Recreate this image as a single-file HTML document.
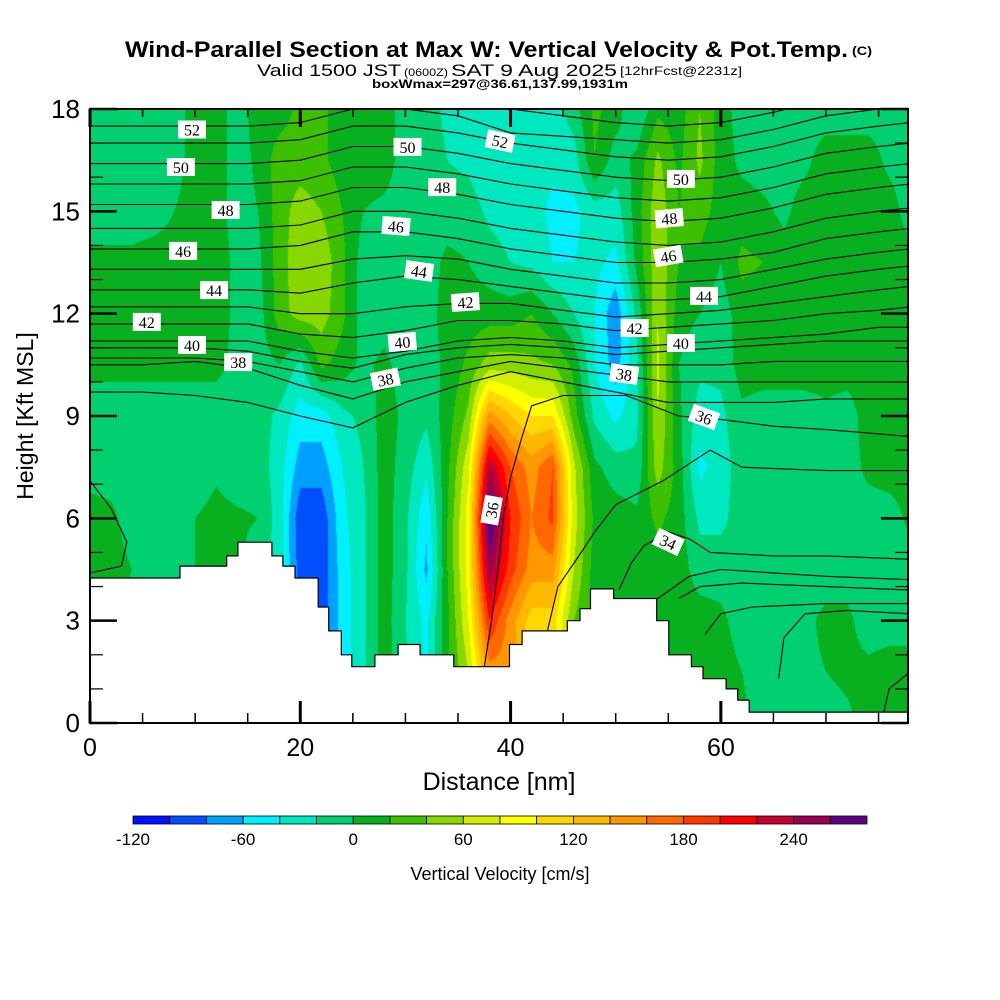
<!DOCTYPE html>
<html><head><meta charset="utf-8"><style>
html,body{margin:0;padding:0;background:#fff;}
#wrap{position:relative;width:1000px;height:1000px;overflow:hidden;}
canvas{position:absolute;left:90px;top:109px;}
svg{position:absolute;left:0;top:0;}
</style></head><body>
<div id="wrap">
<canvas id="field" width="818" height="614"></canvas>
<svg id="svg" width="1000" height="1000" xmlns="http://www.w3.org/2000/svg" font-family="Liberation Sans, sans-serif">
 <g>
  <text x="125" y="57" font-size="22" font-weight="bold" textLength="723" lengthAdjust="spacingAndGlyphs">Wind-Parallel Section at Max W: Vertical Velocity &amp; Pot.Temp.</text>
  <text x="852" y="55" font-size="12" font-weight="bold" textLength="20" lengthAdjust="spacingAndGlyphs">(C)</text>
 </g>
 <g>
  <text x="257" y="76" font-size="17" textLength="144" lengthAdjust="spacingAndGlyphs">Valid 1500 JST</text>
  <text x="404" y="76" font-size="11" textLength="44" lengthAdjust="spacingAndGlyphs">(0600Z)</text>
  <text x="451" y="76" font-size="17" textLength="166" lengthAdjust="spacingAndGlyphs">SAT 9 Aug 2025</text>
  <text x="620" y="75" font-size="12" textLength="122" lengthAdjust="spacingAndGlyphs">[12hrFcst@2231z]</text>
 </g>
 <text x="372" y="88" font-size="12" font-weight="bold" textLength="256" lengthAdjust="spacingAndGlyphs">boxWmax=297@36.61,137.99,1931m</text>
 <defs><clipPath id="pc"><rect x="90" y="109" width="818" height="614"/></clipPath></defs>
 <g id="contours" clip-path="url(#pc)"></g>
 <g id="terrain"></g>
 <g id="labels"></g>
 <g id="axes"></g>
 <text x="499" y="790" font-size="25" text-anchor="middle">Distance [nm]</text>
 <text transform="translate(33,416) rotate(-90)" font-size="23" text-anchor="middle">Height [Kft MSL]</text>
 <g id="cbar"></g>
 <text x="500" y="880" font-size="18" text-anchor="middle">Vertical Velocity [cm/s]</text>
</svg>
</div>
<script>
// ---- data ----
const levelColors = ["#0010ff","#0050ff","#00a0ff","#00f0ff","#00e8c0","#00d070","#08b020","#3cc000","#88d800","#d0f000","#ffff00","#ffd800","#ffb800","#ff9800","#ff6800","#ff3800","#ff0000","#c80030","#980050","#600080"];
const levelMin = -120, levelStep = 20;
const cbarTicks = [-120,-60,0,60,120,180,240];
const gridX = [0,2,4,6,8,10,12,14,16,18,20,22,24,26,28,30,32,34,36,38,40,42,44,46,48,50,52,54,56,58,60,62,64,66,68,70,72,74,76,78];
const gridY = [0,1.5,3,4.5,6,7.5,9,10.5,12,13.5,15,16.5,18];
// vertical velocity (cm/s) per x column, bottom -> top
const wCols = [
[10,10,10,10,10,-10,-10,5,10,5,-10,-10,-10],
[10,10,10,10,5,-10,-10,5,10,5,-10,-10,-10],
[-10,-10,-10,0,-10,-10,-10,5,10,5,-10,-10,-10],
[-10,-10,-10,-10,-10,-10,-10,5,10,10,-10,-10,-10],
[-10,-10,-10,-10,-10,-10,-10,5,10,10,0,-10,-10],
[-10,-10,-10,0,0,-10,-10,5,10,10,10,10,10],
[-10,-10,-10,5,5,-3,-10,5,10,10,10,10,10],
[-10,-10,-10,3,3,-10,-10,-5,-5,-5,-10,-10,-10],
[-10,-10,-10,-10,0,-10,-10,-10,-10,-5,0,5,10],
[-30,-30,-30,-30,-30,-30,-25,0,30,30,30,30,10],
[-90,-90,-90,-90,-95,-70,-50,-25,50,55,50,30,25],
[-95,-95,-95,-95,-95,-70,-50,25,50,55,40,25,25],
[-50,-50,-50,-50,-45,-40,-25,10,25,25,20,10,10],
[-25,-25,-25,-25,-25,-20,-15,-5,-10,-10,0,10,10],
[10,10,10,10,10,10,10,5,-10,-10,-5,10,10],
[-15,-15,-20,-15,-15,-10,-5,-10,-10,-10,-10,-10,-10],
[-45,-45,-45,-65,-55,-35,-15,-10,-10,-10,-10,-10,-10],
[15,15,15,20,20,15,10,5,10,5,-10,-20,-25],
[60,60,80,90,90,75,45,25,10,0,-10,-25,-30],
[150,150,200,250,285,240,150,50,10,-10,-25,-35,-30],
[150,150,150,190,200,180,120,50,10,-20,-30,-35,-30],
[110,110,110,150,160,150,100,45,20,-25,-30,-30,-30],
[110,110,110,150,185,180,100,40,0,-40,-45,-35,-30],
[40,40,40,60,70,65,30,15,-20,-40,-45,-30,-10],
[15,15,15,10,15,5,-25,-40,-40,-35,-30,20,25],
[10,10,10,10,10,-10,-45,-70,-75,-45,-30,-10,10],
[5,5,5,5,5,-15,-25,-25,-15,5,10,5,-20],
[10,10,10,10,25,50,60,65,60,55,55,45,15],
[10,10,10,10,10,10,5,0,10,20,20,15,10],
[10,10,10,-10,-25,-45,-30,-15,0,15,30,45,40],
[10,10,5,-10,-25,-30,-25,-15,-10,0,10,10,10],
[5,0,-10,-10,-10,-10,-5,10,10,25,10,-5,-10],
[-10,-10,-10,-5,-10,-10,-10,10,10,20,5,-10,-10],
[-10,-5,-10,-10,-10,-10,-10,10,10,10,-5,-10,-10],
[-10,-5,-5,-10,-10,-10,-10,10,10,10,10,-5,-10],
[-10,0,5,-10,-10,-10,-5,10,10,10,10,10,-10],
[-5,5,5,-10,-10,-10,-10,10,10,10,10,10,-10],
[10,5,-10,-10,-10,5,10,10,10,10,10,10,-10],
[10,10,-10,-10,-10,10,10,10,10,10,10,-5,-10],
[10,10,-10,-10,5,10,10,10,10,10,-10,-10,-10]
];
// terrain step function
const terrEdges = [0,8.56,13.0,14.07,17.3,18.35,19.5,21.7,22.7,23.9,24.9,27.1,29.3,31.4,34.6,39.9,41.1,45.4,46.6,47.6,49.8,53.9,55.05,57.2,58.3,60.5,61.6,62.7,77.8];
const terrHeights = [4.25,4.6,4.9,5.3,4.9,4.6,4.25,3.4,2.7,2.0,1.65,2.0,2.3,2.0,1.65,2.3,2.7,3.0,3.35,3.93,3.65,3.0,2.0,1.65,1.3,1.0,0.67,0.32];
// potential temperature contours: heights (kft) at contourX nodes
const contourX = [0,5,10,15,20,25,30,35,40,45,50,55,60,65,70,75,78];
const th53 = [18.0,18.0,18.0,18.0,18.1,18.5,18.5,18.3,18.0,17.8,17.6,17.5,17.6,17.9,18.3,18.5,18.6];
const th52 = [17.5,17.5,17.5,17.5,17.6,18.0,18.0,17.8,17.3,17.2,17.1,17.0,17.1,17.4,17.8,18.0,18.1];
const th51 = [17.0,17.0,17.0,17.0,17.1,17.5,17.5,17.3,17.0,16.8,16.6,16.5,16.6,16.9,17.3,17.5,17.6];
const th50 = [16.4,16.4,16.4,16.4,16.5,16.9,16.9,16.7,16.4,16.2,16.0,15.9,16.0,16.3,16.7,16.9,17.0];
const th49 = [15.8,15.8,15.8,15.8,15.9,16.3,16.3,16.1,15.8,15.6,15.4,15.3,15.4,15.7,16.1,16.3,16.4];
const th48 = [15.2,15.2,15.2,15.2,15.3,15.7,15.7,15.5,15.2,15.0,14.8,14.7,14.8,15.1,15.5,15.7,15.8];
const th47 = [14.5,14.5,14.5,14.5,14.6,15.0,15.0,14.8,14.5,14.3,14.1,14.0,14.1,14.4,14.8,15.0,15.1];
const th46 = [13.9,13.9,13.9,13.9,14.0,14.4,14.4,14.2,13.9,13.7,13.5,13.5,13.6,13.8,14.2,14.4,14.5];
const th45 = [13.3,13.3,13.3,13.3,13.3,13.6,13.7,13.6,13.3,13.1,12.9,12.9,13.0,13.3,13.6,13.8,13.9];
const th44 = [12.7,12.7,12.7,12.7,12.6,12.9,13.1,13.0,12.8,12.6,12.4,12.4,12.5,12.8,13.1,13.3,13.4];
const th43 = [12.2,12.2,12.2,12.2,12.0,12.0,12.2,12.3,12.3,12.1,11.9,12.0,12.1,12.3,12.5,12.7,12.8];
const th42 = [11.7,11.7,11.7,11.7,11.4,11.3,11.5,11.8,11.8,11.7,11.5,11.6,11.7,11.8,12.0,12.1,12.2];
const th41 = [11.2,11.2,11.2,11.2,10.9,10.7,10.9,11.2,11.3,11.2,11.0,11.1,11.2,11.3,11.4,11.6,11.6];
const th40 = [11.0,11.0,11.0,10.9,10.6,10.4,10.8,11.0,11.1,11.0,10.8,10.9,11.0,11.1,11.2,11.2,11.2];
const th39 = [10.7,10.7,10.7,10.6,10.3,10.0,10.4,10.7,10.8,10.7,10.5,10.5,10.5,10.6,10.6,10.6,10.6];
const th38 = [10.5,10.5,10.6,10.4,9.9,9.5,10.0,10.3,10.6,10.4,10.2,10.0,10.0,10.0,10.0,10.0,10.0];
const th37 = [9.7,9.7,9.6,9.4,9.0,8.65,9.4,9.9,10.3,10.0,9.7,9.4,9.4,9.4,9.5,9.5,9.5];
const regularContours = [th53,th52,th51,th50,th49,th48,th47,th46,th45,th44,th43,th42,th41,th40,th39,th38,th37];
// irregular contours as [x nm, y kft] points
const th36 = [[37.5,1.65],[38.2,3],[38.8,4.5],[39.3,6],[40,7.2],[41,8.3],[42,9.3],[45,9.6],[51,9.6],[56,9.0],[60,8.9],[65,8.7],[70,8.6],[78,8.4]];
const th35 = [[43.5,2.7],[44.5,4.0],[46.5,4.9],[48,5.6],[50,6.4],[54.5,7.1],[59,8.0],[62,7.5],[70,7.4],[78,7.4]];
const th34 = [[50.3,3.9],[51.5,4.7],[52.7,5.2],[55,5.6],[57,5.4],[59,5.0],[65,4.9],[70,4.9],[78,4.8]];
const th33 = [[54,3.65],[57,4.3],[60,4.5],[65,4.4],[70,4.3],[78,4.2]];
const th32 = [[56,3.65],[58,4.0],[62,4.1],[70,4.0],[78,3.9]];
const th31 = [[58.5,2.6],[60,3.2],[63,3.4],[70,3.5],[78,3.5]];
const th30 = [[65.5,1.3],[66,2.5],[68,3.2],[72,3.3],[78,3.2]];
const th29 = [[75.5,0.32],[76,1.0],[78,1.5]];
const thLeft = [[0,7.1],[2,6.3],[3.5,5.3],[3,4.6],[0,4.4]];
const irregularContours = [th36,th35,th34,th33,th32,th31,th30,th29,thLeft];
// contour labels: text, x nm, y kft, rotation
const labelText = ["52","50","48","46","44","42","40","38","50","52","48","46","44","42","40","38","36","50","48","46","44","42","40","38","36","34"];
const labelXnm = [9.7,8.65,12.9,8.85,11.8,5.4,9.7,14.1,30.2,39.0,33.5,29.1,31.3,35.7,29.7,28.1,38.2,56.2,55.1,55.0,58.4,51.8,56.2,50.8,58.4,55.0];
const labelYkft = [17.4,16.3,15.04,13.84,12.69,11.76,11.08,10.58,16.89,17.06,15.71,14.57,13.25,12.34,11.17,10.08,6.24,15.95,14.8,13.69,12.52,11.58,11.14,10.23,8.97,5.31];
const labelRot = [0,0,0,0,0,0,0,0,0,12,0,5,8,-4,-5,-12,-80,0,-5,-10,0,0,0,8,20,25];
const xTicksMajor = [0,20,40,60];
const yTicksMajor = [0,3,6,9,12,15,18];

// ---- scales ----
const X0=90, X1=908, YB=723, YT=109, XMAX=77.8, YMAX=18;
const sx = x => X0 + x*(X1-X0)/XMAX;
const sy = y => YB - y*(YB-YT)/YMAX;
const NS = "http://www.w3.org/2000/svg";
function mk(tag, attrs, parent){const e=document.createElementNS(NS,tag);for(const k in attrs)e.setAttribute(k,attrs[k]);parent.appendChild(e);return e;}

// ---- field ----
const cv = document.getElementById('field');


const ctx = cv.getContext('2d');
const img = ctx.createImageData(818,614);
const rgb = levelColors.map(c=>[parseInt(c.substr(1,2),16),parseInt(c.substr(3,2),16),parseInt(c.substr(5,2),16)]);
function wAt(x,y){
  let i=0; while(i<gridX.length-2 && gridX[i+1]<x) i++;
  let j=0; while(j<gridY.length-2 && gridY[j+1]<y) j++;
  const tx=Math.min(1,Math.max(0,(x-gridX[i])/(gridX[i+1]-gridX[i])));
  const ty=Math.min(1,Math.max(0,(y-gridY[j])/(gridY[j+1]-gridY[j])));
  const a=wCols[i][j], b=wCols[i+1][j], c=wCols[i][j+1], d=wCols[i+1][j+1];
  return a*(1-tx)*(1-ty)+b*tx*(1-ty)+c*(1-tx)*ty+d*tx*ty;
}
for(let py=0;py<614;py++){
  const y = YMAX*(1-(py+0.5)/614);
  for(let px=0;px<818;px++){
    const x = (px+0.5)*XMAX/818;
    let k = Math.floor((wAt(x,y)-levelMin)/levelStep);
    k=Math.max(0,Math.min(levelColors.length-1,k));
    const o=(py*818+px)*4, c=rgb[k];
    img.data[o]=c[0];img.data[o+1]=c[1];img.data[o+2]=c[2];img.data[o+3]=255;
  }
}
ctx.putImageData(img,0,0);

// ---- contours ----
const cg = document.getElementById('contours');
regularContours.forEach(arr=>{
  const pts = arr.map((h,i)=>sx(contourX[i]).toFixed(1)+','+sy(h).toFixed(1)).join(' ');
  const pl = mk('polyline',{points:pts,fill:'none',stroke:'#000','stroke-width':1.1},cg);
  
  
});
irregularContours.forEach(arr=>{
  const pts = arr.map(p=>sx(p[0]).toFixed(1)+','+sy(p[1]).toFixed(1)).join(' ');
  const pl = mk('polyline',{points:pts,fill:'none',stroke:'#000','stroke-width':1.1},cg);
  
  
});

// ---- terrain ----
const tg = document.getElementById('terrain');
let d = 'M'+sx(0)+','+sy(0);
terrHeights.forEach((h,i)=>{ d += ' L'+sx(terrEdges[i]).toFixed(1)+','+sy(h).toFixed(1)+' L'+sx(terrEdges[i+1]).toFixed(1)+','+sy(h).toFixed(1); });
d += ' L'+sx(XMAX)+','+sy(0)+' Z';
const tp = mk('path',{d:d,fill:'#fff',stroke:'#000','stroke-width':1.2},tg);



// ---- labels ----
const lg = document.getElementById('labels');
labelText.forEach((t,i)=>{
  const g = mk('g',{transform:'translate('+sx(labelXnm[i]).toFixed(1)+','+sy(labelYkft[i]).toFixed(1)+') rotate('+labelRot[i]+')'},lg);
  
  
  mk('rect',{x:-14,y:-9,width:28,height:18,fill:'#fff'},g);
  const tx = mk('text',{x:0,y:6,'font-size':16,'font-family':'Liberation Serif, serif','text-anchor':'middle'},g);
  tx.textContent=t;
});

// ---- axes ----
const ag = document.getElementById('axes');
const frame = mk('rect',{x:X0,y:YT,width:X1-X0,height:YB-YT,fill:'none',stroke:'#000','stroke-width':2},ag);


for(let v=0; v<=XMAX; v+=5){
  const X=sx(v), maj = xTicksMajor.includes(v);
  mk('line',{x1:X,y1:YB,x2:X,y2:YB-(maj?22:10),stroke:'#000','stroke-width':maj?3:1.5},ag);
  mk('line',{x1:X,y1:YT,x2:X,y2:YT+(maj?18:8),stroke:'#000','stroke-width':maj?3:1.5},ag);
}
xTicksMajor.forEach(v=>{
  const t=mk('text',{x:sx(v),y:756,'font-size':25,'text-anchor':'middle'},ag);
  
  
  t.textContent=v;
});
for(let v=0; v<=YMAX; v+=1){
  const Y=sy(v), maj = yTicksMajor.includes(v);
  mk('line',{x1:X0,y1:Y,x2:X0+(maj?27:13),y2:Y,stroke:'#000','stroke-width':maj?2.5:1.2},ag);
  mk('line',{x1:X1,y1:Y,x2:X1-(maj?27:13),y2:Y,stroke:'#000','stroke-width':maj?2.5:1.2},ag);
}
yTicksMajor.forEach(v=>{
  const t=mk('text',{x:80,y:sy(v)+9,'font-size':26,'text-anchor':'end'},ag);
  
  
  t.textContent=v;
});

// ---- colorbar ----
const bg = document.getElementById('cbar');
const CB0=133, CB1=867, CBY=816, CBH=8;
const cbx = v => CB0 + (v-levelMin)*(CB1-CB0)/(levelStep*levelColors.length);
levelColors.forEach((c,i)=>{
  const r = mk('rect',{x:cbx(levelMin+i*levelStep),y:CBY,width:cbx(levelMin+(i+1)*levelStep)-cbx(levelMin+i*levelStep),height:CBH,fill:c,stroke:'#000','stroke-width':0.8},bg);
  
  
});
cbarTicks.forEach(v=>{
  const t=mk('text',{x:cbx(v),y:845,'font-size':17,'text-anchor':'middle'},bg);
  
  
  t.textContent=v;
});
</script>
</body></html>
